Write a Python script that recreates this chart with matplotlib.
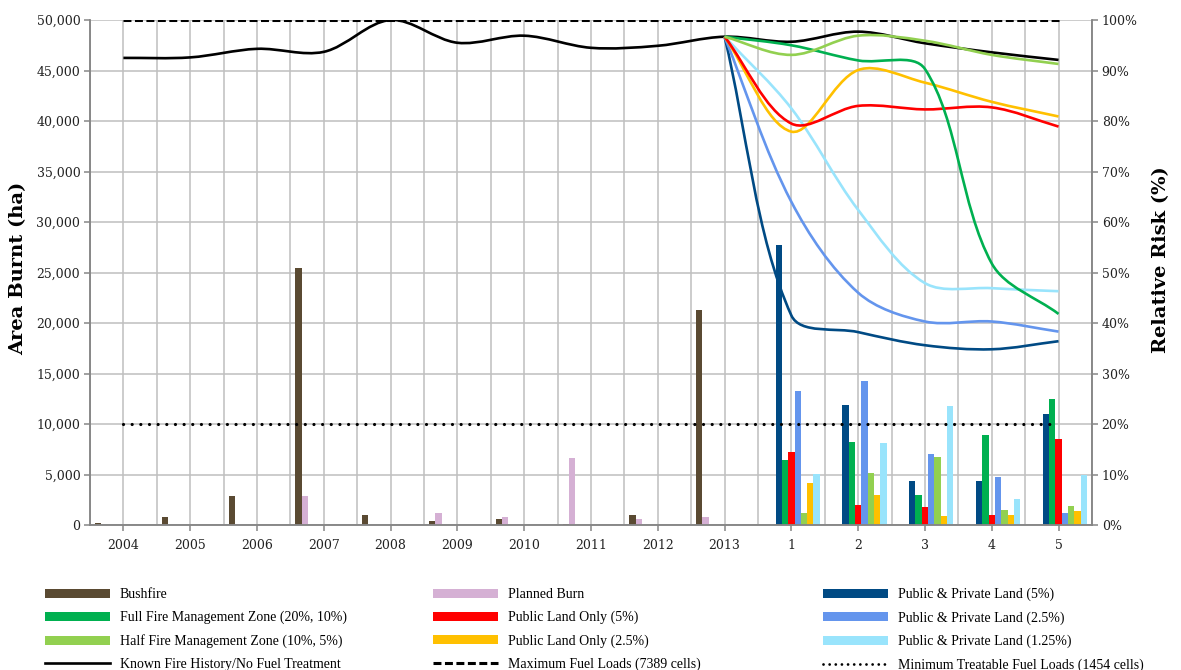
import matplotlib
matplotlib.use('Agg')
import matplotlib.pyplot as plt
import numpy as np
from matplotlib.path import Path
from matplotlib.patches import PathPatch, Patch
from matplotlib.lines import Line2D

categories = ['2004', '2005', '2006', '2007', '2008', '2009', '2010', '2011',
              '2012', '2013', '1', '2', '3', '4', '5']

# area burnt (ha) per category
bushfire = [200, 800, 2900, 25400, 1000, 400, 560, 100, 1000, 21300, 0, 0, 0, 0, 0]
planned_burn = [0, 0, 100, 2900, 0, 1150, 760, 6600, 600, 830, 0, 0, 0, 0, 0]
pp_5 = [27700, 11900, 4350, 4320, 11000]
full_fmz = [6450, 8200, 2950, 8900, 12450]
plo_5 = [7250, 1950, 1800, 950, 8500]
pp_2_5 = [13300, 14300, 7050, 4800, 1200]
half_fmz = [1200, 5150, 6700, 1450, 1900]
plo_2_5 = [4200, 2950, 900, 1000, 1400]
pp_1_25 = [5100, 8150, 11750, 2550, 4950]

# relative risk (%)
known_history = [92.5, 92.6, 94.3, 93.7, 100.0, 95.5, 96.9, 94.5, 94.9, 96.7,
                 95.7, 97.7, 95.4, 93.6, 92.1]
# scenario risk, starting from the 2013 value
risk_pp_5 = [96.7, 41.5, 38.2, 35.6, 34.8, 36.4]
risk_full_fmz = [96.7, 95.0, 92.0, 90.3, 51.8, 41.8]
risk_plo_5 = [96.7, 79.5, 83.0, 82.3, 82.7, 78.9]
risk_pp_2_5 = [96.7, 64.0, 46.0, 40.3, 40.3, 38.3]
risk_half_fmz = [96.7, 93.1, 96.9, 95.9, 93.1, 91.3]
risk_plo_2_5 = [96.7, 77.9, 90.1, 87.6, 83.8, 80.9]
risk_pp_1_25 = [96.7, 82.5, 62.4, 47.9, 46.9, 46.3]

max_fuel = 100
min_fuel = 20

c_bush = '#5a4a32'
c_planned = '#d5b0d4'
c_pp5 = '#004a84'
c_full = '#00b050'
c_plo5 = '#ff0000'
c_pp25 = '#6495ed'
c_half = '#92d050'
c_plo25 = '#ffc000'
c_pp125 = '#99e4fc'

serif = 'DejaVu Serif'
grid_c = '#bfbfbf'
axis_c = '#868686'

dash_max = (0, (2.6, 1.15))
dot_min = (0, (0.01, 2.7))

# pixel size of one category / one percent, used to weight the smoothing
PX_X, PX_Y = 67.0, 5.05


def smooth_path(xs, ys):
    # cubic bezier through the points; tangents from the neighbours,
    # split in proportion to the on-screen segment lengths
    pts = np.column_stack([xs, ys]).astype(float)
    scale = np.array([PX_X, PX_Y])
    n = len(pts)
    verts = [pts[0]]
    codes = [Path.MOVETO]

    def ctrl(i):
        p_prev = pts[i - 1] if i > 0 else pts[i]
        p_next = pts[i + 1] if i + 1 < n else pts[i]
        l_prev = np.hypot(*((pts[i] - p_prev) * scale))
        l_next = np.hypot(*((p_next - pts[i]) * scale))
        tot = l_prev + l_next
        t = p_next - p_prev
        c_in = pts[i] - t * (l_prev / tot) / 3
        c_out = pts[i] + t * (l_next / tot) / 3
        return c_in, c_out

    cs = [ctrl(i) for i in range(n)]
    for i in range(n - 1):
        verts += [cs[i][1], cs[i + 1][0], pts[i + 1]]
        codes += [Path.CURVE4] * 3
    return Path(verts, codes)


fig = plt.figure(figsize=(11.81, 6.70), dpi=100)
ax = fig.add_axes([0.0762, 0.2164, 0.8484, 0.7537])
ax2 = ax.twinx()

x = np.arange(len(categories))
n_years = 10
pad = [0] * n_years
bar_series = [
    (bushfire, c_bush), (planned_burn, c_planned),
    (pad + pp_5, c_pp5), (pad + full_fmz, c_full), (pad + plo_5, c_plo5),
    (pad + pp_2_5, c_pp25), (pad + half_fmz, c_half), (pad + plo_2_5, c_plo25),
    (pad + pp_1_25, c_pp125),
]
w = 0.0945
for k, (vals, col) in enumerate(bar_series):
    ax.bar(x + (k - 4) * w, vals, width=w, color=col, linewidth=0, zorder=2)

ax.set_xlim(-0.5, len(categories) - 0.5)
ax.set_ylim(0, 50000)
ax.set_yticks(np.arange(0, 50001, 5000))
ax.set_yticklabels(['{:,}'.format(v) for v in range(0, 50001, 5000)])
ax.set_xticks(x)
ax.set_xticklabels(categories)
ax.set_xticks(np.arange(-0.5, len(categories), 1.0), minor=True)
ax.set_axisbelow(True)
ax.grid(True, which='both', axis='x', color=grid_c, lw=1.1)
ax.grid(True, which='major', axis='y', color=grid_c, lw=1.1)
ax.tick_params(axis='x', which='minor', length=0)

ax2.set_ylim(0, 100)
ax2.set_yticks(np.arange(0, 101, 10))
ax2.set_yticklabels(['{}%'.format(v) for v in range(0, 101, 10)])

for a in (ax, ax2):
    a.spines['top'].set_visible(False)
    for s in ('left', 'right', 'bottom'):
        a.spines[s].set_color(axis_c)
        a.spines[s].set_linewidth(1.1)
    a.tick_params(axis='both', which='major', color=axis_c, length=4,
                  width=1.1, labelsize=9, labelcolor='#222222', pad=3)
    for lab in a.get_xticklabels() + a.get_yticklabels():
        lab.set_fontfamily(serif)
ax.tick_params(axis='x', pad=6)

# reference lines for fuel loads
ax2.plot([x[0], x[-1]], [max_fuel, max_fuel], color='black', lw=2.2,
         linestyle=dash_max, zorder=3)
ax2.plot([x[0], x[-1] - 0.1], [min_fuel, min_fuel], color='black', lw=2.3,
         linestyle=dot_min, dash_capstyle='round', zorder=3)

ax2.add_patch(PathPatch(smooth_path(x, known_history), fill=False,
                        edgecolor='black', lw=1.9, zorder=4))
xs_scen = x[n_years - 1:]
for vals, col in [(risk_pp_5, c_pp5), (risk_pp_2_5, c_pp25),
                  (risk_pp_1_25, c_pp125), (risk_plo_2_5, c_plo25),
                  (risk_plo_5, c_plo5), (risk_full_fmz, c_full),
                  (risk_half_fmz, c_half)]:
    ax2.add_patch(PathPatch(smooth_path(xs_scen, vals), fill=False,
                            edgecolor=col, lw=1.9, zorder=4))

fig.text(18 / 1181, 1 - 268 / 670, 'Area Burnt (ha)', rotation=90,
         ha='center', va='center', fontsize=14, fontweight='bold',
         family=serif)
fig.text(1161 / 1181, 1 - 260 / 670, 'Relative Risk (%)', rotation=90,
         ha='center', va='center', fontsize=14, fontweight='bold',
         family=serif)

# legend, three columns laid out row by row
def bar_h(col):
    return Patch(facecolor=col, edgecolor='none')

columns = [
    [(bar_h(c_bush), 'Bushfire'),
     (bar_h(c_full), 'Full Fire Management Zone (20%, 10%)'),
     (bar_h(c_half), 'Half Fire Management Zone (10%, 5%)'),
     (Line2D([], [], color='black', lw=1.9), 'Known Fire History/No Fuel Treatment')],
    [(bar_h(c_planned), 'Planned Burn'),
     (bar_h(c_plo5), 'Public Land Only (5%)'),
     (bar_h(c_plo25), 'Public Land Only (2.5%)'),
     (Line2D([], [], color='black', lw=2.2, linestyle=dash_max),
      'Maximum Fuel Loads (7389 cells)')],
    [(bar_h(c_pp5), 'Public & Private Land (5%)'),
     (bar_h(c_pp25), 'Public & Private Land (2.5%)'),
     (bar_h(c_pp125), 'Public & Private Land (1.25%)'),
     (Line2D([], [], color='black', lw=2.0, linestyle=(0, (0.01, 2.2)),
             dash_capstyle='round'), 'Minimum Treatable Fuel Loads (1454 cells)')],
]
col_x = [45, 433, 823]
for cx, items in zip(col_x, columns):
    fig.legend([h for h, _ in items], [t for _, t in items],
               loc='upper left', bbox_to_anchor=(cx / 1181, 1 - 588 / 670),
               frameon=False, borderpad=0, borderaxespad=0,
               handlelength=4.7, handleheight=0.6, handletextpad=0.7,
               labelspacing=0.71, prop={'family': 'Liberation Serif', 'size': 10})

fig.savefig('out.png', dpi=100)
